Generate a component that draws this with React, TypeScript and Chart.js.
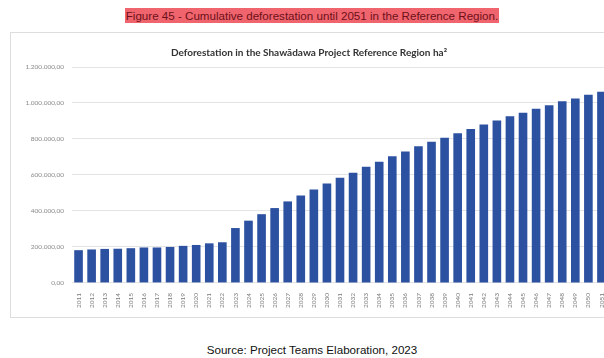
import React, { useEffect, useRef } from "react";
import { Chart, registerables } from "chart.js";

Chart.register(...registerables);

const years: string[] = [
  "2011","2012","2013","2014","2015","2016","2017","2018","2019","2020",
  "2021","2022","2023","2024","2025","2026","2027","2028","2029","2030",
  "2031","2032","2033","2034","2035","2036","2037","2038","2039","2040",
  "2041","2042","2043","2044","2045","2046","2047","2048","2049","2050","2051",
];

const deforestation: number[] = [
  182000, 186000, 189000, 190000, 193000, 197000, 197000, 200000, 206000, 211000,
  220000, 226000, 305000, 346000, 382000, 416000, 453000, 486000, 519000, 552000,
  584000, 612000, 645000, 674000, 704000, 730000, 759000, 785000, 807000, 832000,
  856000, 880000, 902000, 926000, 946000, 968000, 988000, 1009000, 1025000, 1046000, 1062000,
];

const figureTitle = "Figure 45 - Cumulative deforestation until 2051 in the Reference Region.";
const chartTitle = "Deforestation in the Shawãdawa Project Reference Region ha²";
const sourceText = "Source: Project Teams Elaboration, 2023";

const fmt = (v: number) =>
  v.toLocaleString("de-DE", { minimumFractionDigits: 2, maximumFractionDigits: 2 });

export default function App() {
  const ref = useRef<HTMLCanvasElement | null>(null);

  useEffect(() => {
    if (!ref.current) return;
    const chart = new Chart(ref.current, {
      type: "bar",
      data: {
        labels: years,
        datasets: [
          {
            data: deforestation,
            backgroundColor: "#2C51A0",
            borderWidth: 0,
            barPercentage: 0.66,
            categoryPercentage: 1,
          },
        ],
      },
      options: {
        animation: false,
        responsive: false,
        maintainAspectRatio: false,
        layout: { padding: { left: 0, right: 12, top: 0, bottom: 8 } },
        plugins: {
          legend: { display: false },
          tooltip: { enabled: false },
          title: {
            display: true,
            text: chartTitle,
            color: "#333333",
            font: { family: "Lato", size: 10, weight: "bold" },
            padding: { top: 15, bottom: 8 },
          },
        },
        scales: {
          x: {
            grid: { display: false },
            border: { display: false },
            ticks: {
              color: "#7a7a7a",
              font: { family: "Lato", size: 6.5 },
              minRotation: 90,
              maxRotation: 90,
              autoSkip: false,
              padding: 2,
            },
          },
          y: {
            min: 0,
            max: 1200000,
            afterFit: (s: any) => {
              s.width = 62;
            },
            ticks: {
              stepSize: 200000,
              color: "#8a8a8a",
              font: { family: "Lato", size: 6.5 },
              padding: 8,
              callback: (v: any) => fmt(Number(v)),
            },
            grid: { color: "#e4e4e4", drawTicks: false },
            border: { display: false },
          },
        },
      },
    });
    return () => chart.destroy();
  }, []);

  return (
    <div
      style={{
        position: "fixed",
        left: 0,
        top: 0,
        width: 604,
        height: 358,
        overflow: "hidden",
        background: "#ffffff",
        fontFamily: "'Liberation Sans', Arial, sans-serif",
      }}
    >
      <div
        style={{
          position: "absolute",
          left: 0,
          width: 604,
          top: 8,
          textAlign: "center",
          lineHeight: "14px",
          paddingLeft: 20,
          boxSizing: "border-box",
        }}
      >
        <span
          style={{
            background: "#f0646e",
            color: "#6e1018",
            fontSize: 11.6,
            padding: "1px 1px",
          }}
        >
          {figureTitle}
        </span>
      </div>
      <div
        style={{
          position: "absolute",
          left: 10,
          top: 32,
          width: 620,
          height: 286,
          border: "1px solid #dddddd",
          boxSizing: "border-box",
        }}
      />
      <canvas
        ref={ref}
        width={610}
        height={286}
        style={{ position: "absolute", left: 10, top: 32, width: 610, height: 286 }}
      />
      <div
        style={{
          position: "absolute",
          left: 0,
          width: 604,
          top: 343,
          textAlign: "center",
          fontSize: 11.6,
          lineHeight: "13px",
          color: "#111111",
          paddingLeft: 20,
          boxSizing: "border-box",
        }}
      >
        {sourceText}
      </div>
    </div>
  );
}
